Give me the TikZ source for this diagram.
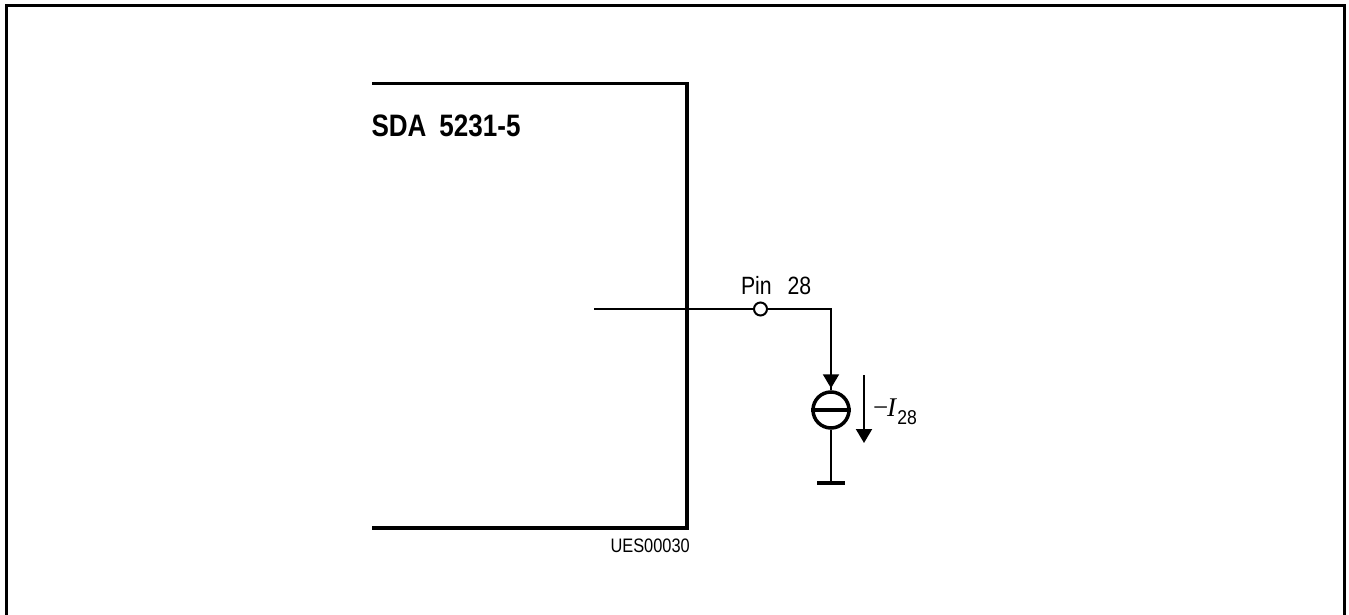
\documentclass[tikz,border=0pt]{standalone}
\usepackage{fontspec}
\setmainfont{Liberation Sans}
\newfontfamily\serifit[Ligatures=TeX]{Liberation Serif}
\usetikzlibrary{arrows.meta}
\tikzset{
  wire/.style={draw=black,line width=2pt},
  heavy/.style={draw=black,line width=3.6pt,line cap=butt,line join=miter},
  frameline/.style={draw=black,line width=3pt,line join=miter},
  lab/.style={inner sep=0pt,outer sep=0pt,anchor=west,text=black},
  solidtip/.style={-{Triangle[length=14pt,width=16pt]}},
}
\begin{document}
\begin{tikzpicture}[x=1pt,y=-1pt]
\useasboundingbox (0,0) rectangle (1349,615);
\fill[white] (0,0) rectangle (1349,615);
% outer frame
\coordinate (fbl) at (6.5,615);
\coordinate (ftl) at (6.5,6);
\coordinate (ftr) at (1344.5,6);
\coordinate (fbr) at (1344.5,615);
\draw[frameline] (fbl) -- (ftl) -- (ftr) -- (fbr);
% chip box
\coordinate (btl) at (372,83.5);
\coordinate (btr) at (687,83.5);
\coordinate (bbr) at (687,528);
\coordinate (bbl) at (372,528);
\draw[heavy] (btl) -- (btr) -- (bbr) -- (bbl);
\node[lab] (title) at (371.5,125.5) {\fontsize{31}{31}\selectfont\bfseries\scalebox{0.84}[1]{SDA\hspace{0.5em}5231-5}};
\node[lab] (code) at (610.5,546) {\fontsize{19.5}{19.5}\selectfont\scalebox{0.84}[1]{UES00030}};
% wiring
\coordinate (wstart) at (594,309);
\coordinate (wcorner) at (831,309);
\node[circle,draw=black,line width=2pt,fill=white,minimum size=13pt,inner sep=0pt] (pin) at (760.5,309) {};
\node[lab] (pinlab) at (741,286) {\fontsize{25}{25}\selectfont\scalebox{0.85}[1]{Pin\hspace{0.75em}28}};
\node[circle,draw=black,line width=3.5pt,minimum size=36pt,inner sep=0pt] (src) at (831,410) {};
\draw[draw=black,line width=3.6pt] (src.west) -- (src.east);
\coordinate (gnd) at (831,483);
\coordinate (gl) at (817,483);
\coordinate (gr) at (845,483);
\draw[wire] (wstart) -- (pin);
\draw[wire] (pin) -- (wcorner) -- (src.north);
\draw[wire,solidtip,shorten >=2pt] (wcorner) -- (src.north);
\draw[wire] (src.south) -- (gnd);
\draw[draw=black,line width=4.5pt] (gl) -- (gr);
% current arrow
\coordinate (ia) at (864,375);
\coordinate (ib) at (864,443);
\draw[wire,solidtip] (ia) -- (ib);
\node[lab] (ilab) at (873,412) {\serifit\fontsize{27}{27}\selectfont−\kern-1pt\textit{I}\kern0pt\raisebox{-8pt}{\fontsize{20}{20}\selectfont\rmfamily\scalebox{0.88}[1]{28}}};
\end{tikzpicture}
\end{document}
